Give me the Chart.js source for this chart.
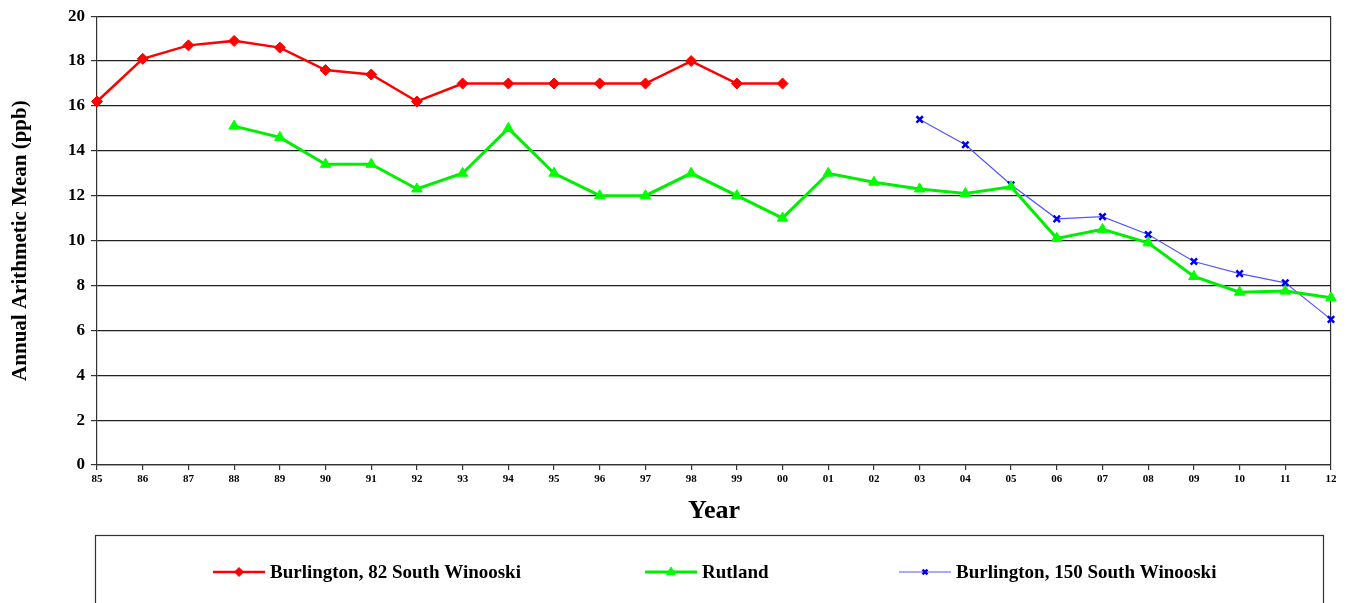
<!DOCTYPE html>
<html><head><meta charset="utf-8">
<script src="https://cdn.jsdelivr.net/npm/chart.js@4/dist/chart.umd.min.js"></script>
<style>html,body{margin:0;padding:0;background:#fff;}canvas{display:block;}</style>
</head><body>
<canvas id="c" width="1346" height="603"></canvas>
<script>
const years = ['85','86','87','88','89','90','91','92','93','94','95','96','97','98','99','00','01','02','03','04','05','06','07','08','09','10','11','12'];
const burlington82 = [16.2,18.1,18.7,18.9,18.6,17.6,17.4,16.2,17,17,17,17,17,18,17,17,null,null,null,null,null,null,null,null,null,null,null,null];
const rutland = [null,null,null,15.1,14.6,13.4,13.4,12.3,13,15,13,12,12,13,12,11,13,12.6,12.3,12.1,12.4,10.1,10.5,9.9,8.4,7.7,7.75,7.45];
const burlington150 = [null,null,null,null,null,null,null,null,null,null,null,null,null,null,null,null,null,null,15.4,14.27,12.49,10.97,11.07,10.27,9.07,8.53,8.12,6.49];
const seriesNames = ['Burlington, 82 South Winooski','Rutland','Burlington, 150 South Winooski'];
const yTitle = 'Annual Arithmetic Mean (ppb)';
const xTitle = 'Year';

const FONT = "'Liberation Serif', 'Times New Roman', serif";

const legendBox = {
  id: 'legendBox',
  afterDraw(chart) {
    const ctx = chart.ctx;
    ctx.save();
    ctx.strokeStyle = '#333';
    ctx.lineWidth = 1.2;
    ctx.strokeRect(95.5, 535.5, 1228, 120);
    const starts = [213, 645, 899];
    const y = 572;
    chart.data.datasets.forEach((ds, i) => {
      const x0 = starts[i];
      ctx.strokeStyle = ds.borderColor;
      ctx.lineWidth = ds.borderWidth;
      ctx.beginPath(); ctx.moveTo(x0, y); ctx.lineTo(x0 + 52, y); ctx.stroke();
      const opts = {pointStyle: ds.pointStyle, radius: ds.pointRadius - 1, rotation: 0, borderWidth: ds.pointBorderWidth || 1};
      ctx.fillStyle = ds.pointBackgroundColor;
      ctx.strokeStyle = ds.pointBorderColor;
      ctx.lineWidth = opts.borderWidth;
      Chart.helpers.drawPoint(ctx, opts, x0 + 26, y);
      ctx.fillStyle = '#000';
      ctx.font = 'bold 19px ' + FONT;
      ctx.textBaseline = 'middle';
      ctx.textAlign = 'left';
      ctx.fillText(ds.label, x0 + 57, y + 1);
    });
    ctx.restore();
  }
};

new Chart(document.getElementById('c'), {
  type: 'line',
  data: {
    labels: years,
    datasets: [
      {label: seriesNames[0], data: burlington82, borderColor: '#ff0000', backgroundColor: '#ff0000', borderWidth: 2.5,
       pointStyle: 'rectRot', pointRadius: 5.5, pointBackgroundColor: '#ff0000', pointBorderColor: '#ff0000', pointBorderWidth: 1, tension: 0, spanGaps: false},
      {label: seriesNames[1], data: rutland, borderColor: '#00ee00', backgroundColor: '#00ff00', borderWidth: 3,
       pointStyle: 'triangle', pointRadius: 6, pointBackgroundColor: '#00ff00', pointBorderColor: '#00ff00', pointBorderWidth: 1, tension: 0, spanGaps: false},
      {label: seriesNames[2], data: burlington150, borderColor: '#5555ff', backgroundColor: '#0000ff', borderWidth: 1.2,
       pointStyle: 'crossRot', pointRadius: 4.5, pointBackgroundColor: '#0000ff', pointBorderColor: '#0000ee', pointBorderWidth: 2.5, tension: 0, spanGaps: false}
    ]
  },
  options: {
    responsive: false,
    animation: false,
    layout: {padding: {top: 15, right: 15, left: 0, bottom: 0}},
    plugins: {legend: {display: false}, tooltip: {enabled: false}},
    scales: {
      x: {
        type: 'category',
        offset: false,
        afterFit(s) { s.height = 138; },
        grid: {
          drawOnChartArea: true,
          color: c => (c.index === years.length - 1 ? '#333' : 'rgba(0,0,0,0)'),
          tickColor: '#333', tickLength: 5, lineWidth: 1.2
        },
        border: {display: true, color: '#333', width: 1.2},
        ticks: {autoSkip: false, maxRotation: 0, padding: 3, color: '#000', font: {family: FONT, size: 11, weight: 'bold'}},
        title: {display: true, text: xTitle, color: '#000', font: {family: FONT, size: 26, weight: 'bold'}, padding: {top: 0, bottom: 76}}
      },
      y: {
        min: 0, max: 20,
        afterFit(s) { s.width = 97; },
        grid: {color: '#222', lineWidth: 1.2, tickColor: '#333', tickLength: 6},
        border: {display: true, color: '#333', width: 1.2},
        ticks: {stepSize: 2, padding: 6, color: '#000', font: {family: FONT, size: 17, weight: 'bold'}},
        title: {display: true, text: yTitle, color: '#000', font: {family: FONT, size: 21, weight: 'bold'}, padding: {top: 8, bottom: 0}}
      }
    }
  },
  plugins: [legendBox]
});
</script>
</body></html>
